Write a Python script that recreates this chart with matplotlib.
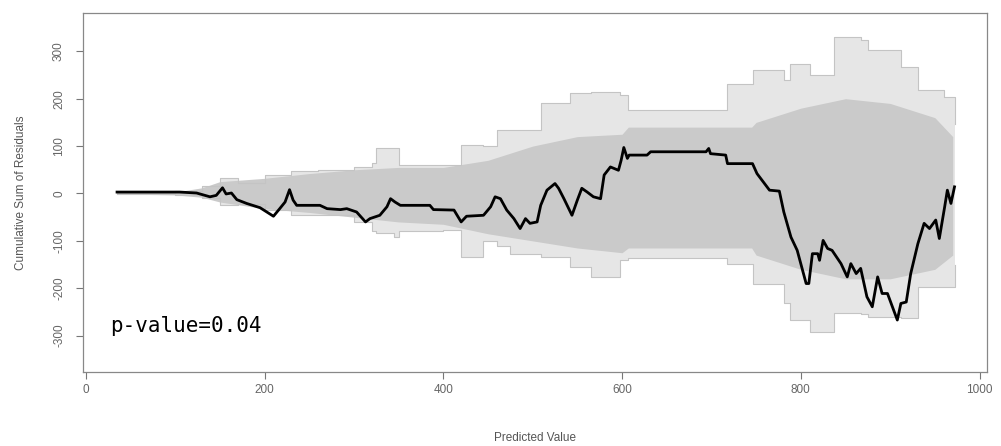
import numpy as np
import matplotlib
matplotlib.use("Agg")
import matplotlib.pyplot as plt

# observed cumulative residual path (black)
obs_x = [35, 105, 124, 139, 146, 153, 157, 163, 169, 180, 195, 210, 217, 223, 228, 232, 236,
         262, 270, 285, 292, 303, 313, 318, 329, 337, 341, 346, 352, 385, 389, 412, 420, 426,
         445, 453, 458, 464, 471, 479, 486, 492, 497, 505, 509, 516, 525, 529, 535, 544, 550,
         555, 561, 568, 576, 580, 587, 596, 599, 602, 606, 608, 628, 632, 694, 697, 699, 716,
         718, 746, 751, 765, 776, 781, 789, 796, 806, 809, 813, 819, 821, 825, 830, 835, 845,
         852, 856, 862, 867, 874, 880, 886, 891, 897, 908, 912, 918, 923, 931, 938, 944, 951,
         955, 961, 964, 968, 972]
obs_y = [3, 3, 1, -7, -4, 12, -1, 1, -13, -21, -30, -48, -32, -18, 8, -14, -25,
         -25, -32, -34, -32, -39, -60, -53, -46, -28, -11, -18, -25, -25, -34, -35, -60, -48,
         -46, -28, -7, -11, -35, -53, -74, -53, -63, -60, -25, 7, 21, 11, -11, -46, -14,
         11, 3, -7, -11, 39, 56, 49, 70, 97, 74, 81, 81, 88, 88, 95, 84, 81,
         63, 63, 42, 7, 5, -39, -92, -120, -190, -190, -127, -127, -141, -99, -116, -120, -148,
         -176, -148, -169, -158, -218, -239, -176, -211, -211, -267, -232, -229, -169, -106, -63, -74, -56,
         -95, -28, 7, -21, 14]

# outer envelope of the simulated paths (grey)
env_x = [35, 100, 130, 150, 170, 200, 230, 260, 300, 320, 325, 345, 350, 400, 420, 445, 460,
         475, 509, 542, 565, 598, 607, 718, 747, 781, 788, 810, 837, 867, 875, 912, 931, 960, 972]
env_hi = [2, 5, 15, 33, 22, 38, 48, 50, 55, 65, 95, 95, 60, 60, 102, 100, 135,
          133, 190, 211, 214, 207, 176, 232, 260, 239, 274, 250, 330, 323, 302, 267, 218, 203, 147]
env_lo = [-2, -4, -10, -25, -22, -35, -45, -45, -60, -80, -84, -92, -80, -77, -134, -100, -110,
          -127, -134, -155, -176, -141, -137, -148, -190, -232, -267, -292, -253, -255, -260, -262, -197, -197, -150]

# dense core of the simulated paths
core_x = [35, 100, 130, 150, 200, 250, 300, 350, 400, 450, 500, 550, 600, 607, 745, 750, 800, 850, 900, 950, 970]
core_hi = [1, 3, 12, 25, 32, 42, 50, 55, 55, 70, 100, 120, 125, 140, 140, 150, 180, 200, 190, 160, 120]
core_lo = [-1, -3, -8, -18, -32, -40, -50, -60, -65, -85, -100, -115, -125, -115, -115, -130, -160, -180, -180, -160, -130]

xticks = [0, 200, 400, 600, 800, 1000]
yticks = [-300, -200, -100, 0, 100, 200, 300]

plt.rcParams["font.family"] = ["Liberation Sans", "DejaVu Sans"]

fig = plt.figure(figsize=(10.01, 4.46), dpi=100)
ax = fig.add_axes([0.083, 0.1666, 0.9027, 0.8034])

ax.fill_between(env_x, env_lo, env_hi, color="#e6e6e6", lw=0, step="post")
ax.fill_between(core_x, core_lo, core_hi, color="#cacaca", lw=0)
ax.plot(env_x, env_hi, color="#c4c4c4", lw=0.8, drawstyle="steps-post")
ax.plot(env_x, env_lo, color="#c4c4c4", lw=0.8, drawstyle="steps-post")
ax.plot(obs_x, obs_y, color="black", lw=2.0)

ax.text(27, -292, "p-value=0.04", family="DejaVu Sans Mono", fontsize=15, color="black",
        va="baseline", ha="left")

ax.set_xlim(-3, 1008)
ax.set_ylim(-376, 380)
ax.set_xticks(xticks)
ax.set_yticks(yticks)
ax.set_yticklabels([str(v) for v in yticks], rotation=90, va="center")
ax.tick_params(colors="#777777", labelcolor="#666666", labelsize=8.5, length=5, width=0.8)
ax.tick_params(axis="x", pad=4)
ax.tick_params(axis="y", pad=8)
for s in ax.spines.values():
    s.set_color("#888888")
    s.set_linewidth(0.9)

ax.set_xlabel("Predicted Value", fontsize=8.5, color="#555555", labelpad=26)
ax.set_ylabel("Cumulative Sum of Residuals", fontsize=8.5, color="#555555", labelpad=19)

fig.savefig("out.png", dpi=100)
